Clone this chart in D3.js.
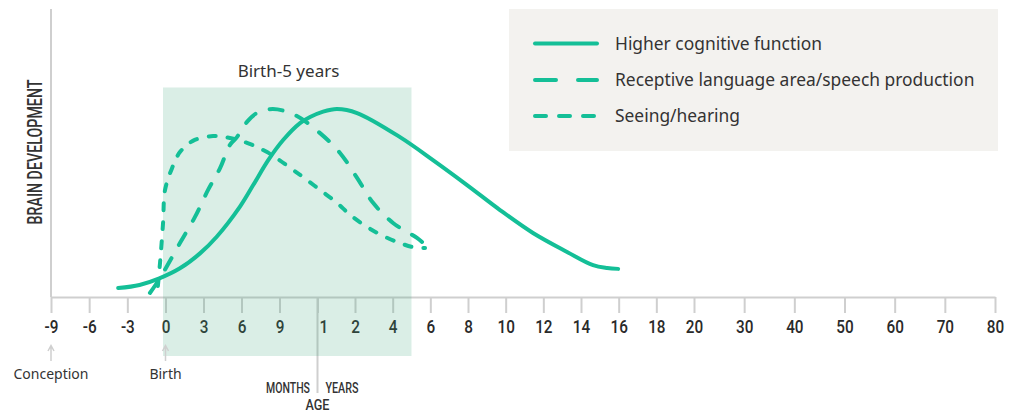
<!DOCTYPE html>
<html>
<head>
<meta charset="utf-8">
<script src="https://cdn.jsdelivr.net/npm/d3@7"></script>
<style>
  body { margin: 0; background: #fff; }
  svg { display: block; }
  .cond { font-family: Roboto, "DejaVu Sans", sans-serif; font-weight: 500; }
  .sans { font-family: "Noto Sans", "Open Sans", sans-serif; }
</style>
</head>
<body>
<div id="chart"></div>
<script>
// age in years (negative = before birth), value = relative development
const higherCognitive = [
  [-0.31, 3.1], [-0.17, 4.2], [-0.04, 6.5], [0.095, 10.0], [0.227, 15.2], [0.337, 21.0],
  [0.49, 31.5], [0.577, 39.0], [0.676, 47.7], [0.774, 54.7], [0.885, 60.6],
  [0.951, 62.7], [1.15, 64.6], [1.52, 65.5], [2.11, 64.1], [4.39, 55.7],
  [6.14, 47.7], [7.95, 39.0], [9.7, 30.3], [11.45, 22.3], [13.26, 15.7], [14.64, 11.1],
  [15.39, 10.1], [15.97, 9.8]
];
const receptiveLanguage = [
  [-0.102, 1.4], [-0.036, 6.6], [0.095, 18.8], [0.194, 27.9], [0.28, 37.3], [0.359, 44.9],
  [0.424, 53.0], [0.47, 55.7], [0.536, 61.0], [0.602, 64.1], [0.707, 65.5], [0.852, 63.4],
  [1.067, 57.1], [1.6, 50.2], [2.11, 41.5], [2.96, 32.8], [4.02, 25.8], [5.29, 20.6], [5.56, 19.2]
];
const seeingHearing = [
  [-0.05, 3.8], [-0.036, 11.8], [-0.016, 25.8], [-0.003, 37.3], [0.043, 44.9], [0.095, 50.5],
  [0.18, 54.4], [0.313, 56.1], [0.424, 55.4], [0.536, 53.7], [0.668, 50.5], [0.839, 44.3],
  [0.905, 41.8], [1.067, 37.3], [1.52, 32.8], [1.87, 28.6], [2.64, 24.4], [3.49, 21.3],
  [4.39, 18.8], [5.08, 17.4], [5.72, 17.1]
];

const tickAges = [-0.75, -0.5, -0.25, 0, 0.25, 0.5, 0.75, 1, 2, 4, 6, 8, 10, 12, 14, 16, 18, 20, 30, 40, 50, 60, 70, 80];
const tickLabels = ["-9", "-6", "-3", "0", "3", "6", "9", "1", "2", "4", "6", "8", "10", "12", "14", "16", "18", "20", "30", "40", "50", "60", "70", "80"];
const scaleBreaks = [-0.75, 0, 1, 2, 20, 80];   // months | years | compressed adulthood
const birthToFive = [0, 5];
const bandTop = 73;

const seriesNames = ["Higher cognitive function", "Receptive language area/speech production", "Seeing/hearing"];

const W = 1019, H = 414;
const green = "#14bf97";
const grid = "#cfcfcf";
const ink = "#333";

const svg = d3.select("#chart").append("svg").attr("width", W).attr("height", H);

const x = d3.scaleLinear().domain(scaleBreaks).range([51, 165.5, 317.5, 355, 694, 995]);
const y = d3.scaleLinear().domain([0, 100]).range([297, 10]);

// legend box
const lg = svg.append("g");
lg.append("rect").attr("x", 509).attr("y", 9).attr("width", 489).attr("height", 142).attr("fill", "#f3f2ef");
const legendDash = [null, "21,22", "11,13"];
const legendY = [43.5, 80, 116];
seriesNames.forEach((name, i) => {
  lg.append("line").attr("x1", 535).attr("x2", 597).attr("y1", legendY[i]).attr("y2", legendY[i])
    .attr("stroke", green).attr("stroke-width", 4).attr("stroke-linecap", "round")
    .attr("stroke-dasharray", legendDash[i]);
  lg.append("text").attr("class", "sans").attr("x", 615).attr("y", legendY[i]).attr("dy", "0.35em")
    .attr("font-size", 17.4).attr("fill", ink).text(name);
});

// y axis line
svg.append("line").attr("x1", x(-0.75)).attr("x2", x(-0.75)).attr("y1", y(100) - 1).attr("y2", y(0))
  .attr("stroke", grid).attr("stroke-width", 2);

// x axis
const xAxis = d3.axisBottom(x).tickValues(tickAges).tickSize(16).tickSizeOuter(0)
  .tickFormat((d, i) => tickLabels[i]);
const ax = svg.append("g").attr("transform", `translate(0,${y(0)})`).call(xAxis);
ax.select(".domain").attr("stroke", grid).attr("stroke-width", 2);
ax.selectAll(".tick line").attr("stroke", grid).attr("stroke-width", 2);
ax.selectAll(".tick text").attr("class", "cond").attr("font-size", 18).attr("fill", "#2a2a2a")
  .attr("font-family", null).attr("y", 23.7).attr("dy", "0.71em")
  .attr("transform", "scale(0.85,1)")
  .attr("dx", (d, i) => i === 7 ? 7 : 0);

// months / years divider
svg.append("line").attr("x1", x(1)).attr("x2", x(1)).attr("y1", y(0)).attr("y2", 393)
  .attr("stroke", grid).attr("stroke-width", 2);

// birth - 5 years band
svg.append("rect").attr("x", x(birthToFive[0]) - 2.5).attr("y", y(bandTop))
  .attr("width", x(birthToFive[1]) - x(birthToFive[0]) + 2.5).attr("height", 356 - y(bandTop))
  .attr("fill", "rgb(70,170,130)").attr("fill-opacity", 0.2);
svg.append("text").attr("class", "sans").attr("x", (x(birthToFive[0]) + x(birthToFive[1])) / 2)
  .attr("y", y(bandTop) - 16).attr("dy", "0.35em").attr("text-anchor", "middle")
  .attr("font-size", 17).attr("fill", ink).text("Birth-5 years");

// curves
const line = d3.line().x(d => x(d[0])).y(d => y(d[1])).curve(d3.curveCatmullRom.alpha(0.5));
const chartDash = ["", "13,15", "7,12"];
[higherCognitive, receptiveLanguage, seeingHearing].forEach((s, i) => {
  svg.append("path").attr("d", line(s)).attr("fill", "none").attr("stroke", green)
    .attr("stroke-width", 4).attr("stroke-linecap", "round").attr("stroke-linejoin", "round")
    .attr("stroke-dasharray", chartDash[i] || null);
});

// conception / birth markers
[[-0.75, "Conception"], [0, "Birth"]].forEach(([a, label]) => {
  const px = x(a);
  svg.append("path").attr("d", `M${px},361 L${px},346 M${px - 3},351 L${px},345.5 L${px + 3},351`)
    .attr("fill", "none").attr("stroke", grid).attr("stroke-width", 1.5);
  svg.append("text").attr("class", "sans").attr("x", px).attr("y", 374).attr("dy", "0.35em")
    .attr("text-anchor", "middle").attr("font-size", 14).attr("fill", ink).text(label);
});

function condText(tx, ty, str, size, len, anchor) {
  return svg.append("text").attr("class", "cond").attr("x", tx).attr("y", ty)
    .attr("text-anchor", anchor).attr("font-size", size).attr("fill", ink)
    .attr("textLength", len).attr("lengthAdjust", "spacingAndGlyphs").text(str);
}
condText(x(1) - 7.5, 393, "MONTHS", 14, 44, "end");
condText(x(1) + 8, 393, "YEARS", 14, 33, "start");
condText(x(1), 410, "AGE", 15, 24, "middle");

svg.append("g").attr("transform", "translate(42,152) rotate(-90)")
  .append("text").attr("class", "cond").attr("x", 0).attr("y", 0).attr("text-anchor", "middle")
  .attr("font-size", 20).attr("fill", ink).attr("textLength", 145).attr("lengthAdjust", "spacingAndGlyphs")
  .text("BRAIN DEVELOPMENT");
</script>
</body>
</html>
